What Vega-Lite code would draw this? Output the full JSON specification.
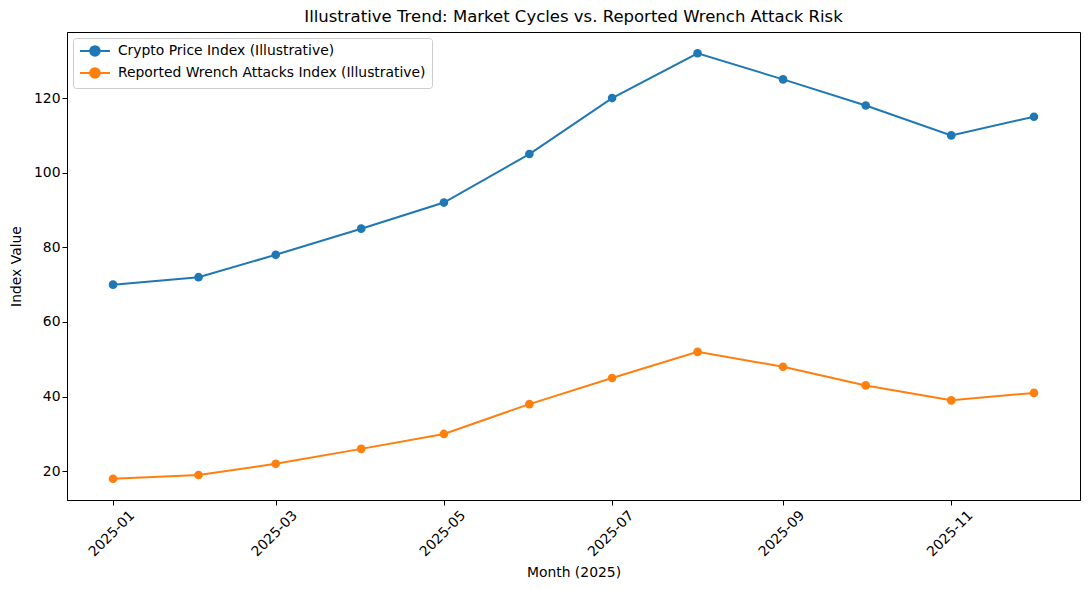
{
  "$schema": "https://vega.github.io/schema/vega-lite/v6.json",
  "autosize": "none",
  "padding": {"left": 67, "top": 32, "right": 10, "bottom": 90},
  "width": 1013,
  "height": 468,
  "title": {
    "text": "Illustrative Trend: Market Cycles vs. Reported Wrench Attack Risk",
    "font": "DejaVu Sans",
    "fontSize": 16.5,
    "fontWeight": "normal",
    "color": "black",
    "anchor": "middle",
    "offset": 7
  },
  "data": {
    "values": [
      {"month": "2025-01-01", "series": "Crypto Price Index (Illustrative)", "value": 70},
      {"month": "2025-02-01", "series": "Crypto Price Index (Illustrative)", "value": 72},
      {"month": "2025-03-01", "series": "Crypto Price Index (Illustrative)", "value": 78},
      {"month": "2025-04-01", "series": "Crypto Price Index (Illustrative)", "value": 85},
      {"month": "2025-05-01", "series": "Crypto Price Index (Illustrative)", "value": 92},
      {"month": "2025-06-01", "series": "Crypto Price Index (Illustrative)", "value": 105},
      {"month": "2025-07-01", "series": "Crypto Price Index (Illustrative)", "value": 120},
      {"month": "2025-08-01", "series": "Crypto Price Index (Illustrative)", "value": 132},
      {"month": "2025-09-01", "series": "Crypto Price Index (Illustrative)", "value": 125},
      {"month": "2025-10-01", "series": "Crypto Price Index (Illustrative)", "value": 118},
      {"month": "2025-11-01", "series": "Crypto Price Index (Illustrative)", "value": 110},
      {"month": "2025-12-01", "series": "Crypto Price Index (Illustrative)", "value": 115},
      {"month": "2025-01-01", "series": "Reported Wrench Attacks Index (Illustrative)", "value": 18},
      {"month": "2025-02-01", "series": "Reported Wrench Attacks Index (Illustrative)", "value": 19},
      {"month": "2025-03-01", "series": "Reported Wrench Attacks Index (Illustrative)", "value": 22},
      {"month": "2025-04-01", "series": "Reported Wrench Attacks Index (Illustrative)", "value": 26},
      {"month": "2025-05-01", "series": "Reported Wrench Attacks Index (Illustrative)", "value": 30},
      {"month": "2025-06-01", "series": "Reported Wrench Attacks Index (Illustrative)", "value": 38},
      {"month": "2025-07-01", "series": "Reported Wrench Attacks Index (Illustrative)", "value": 45},
      {"month": "2025-08-01", "series": "Reported Wrench Attacks Index (Illustrative)", "value": 52},
      {"month": "2025-09-01", "series": "Reported Wrench Attacks Index (Illustrative)", "value": 48},
      {"month": "2025-10-01", "series": "Reported Wrench Attacks Index (Illustrative)", "value": 43},
      {"month": "2025-11-01", "series": "Reported Wrench Attacks Index (Illustrative)", "value": 39},
      {"month": "2025-12-01", "series": "Reported Wrench Attacks Index (Illustrative)", "value": 41}
    ]
  },
  "encoding": {
    "x": {
      "field": "month",
      "type": "temporal",
      "title": "Month (2025)",
      "scale": {
        "type": "utc",
        "domain": [
          {"year": 2024, "month": 12, "date": 15, "hours": 7, "minutes": 12, "utc": true},
          {"year": 2025, "month": 12, "date": 17, "hours": 16, "minutes": 48, "utc": true}
        ]
      },
      "axis": {
        "values": [
          {"year": 2025, "month": 1, "date": 1, "utc": true},
          {"year": 2025, "month": 3, "date": 1, "utc": true},
          {"year": 2025, "month": 5, "date": 1, "utc": true},
          {"year": 2025, "month": 7, "date": 1, "utc": true},
          {"year": 2025, "month": 9, "date": 1, "utc": true},
          {"year": 2025, "month": 11, "date": 1, "utc": true}
        ],
        "labelExpr": "utcFormat(datum.value, '%Y-%m')",
        "labelAngle": -45,
        "labelAlign": "right",
        "labelBaseline": "middle",
        "labelOffset": 19,
        "labelPadding": 8,
        "titlePadding": 7
      }
    },
    "y": {
      "field": "value",
      "type": "quantitative",
      "title": "Index Value",
      "scale": {"domain": [12.3, 137.7], "nice": false, "zero": false},
      "axis": {"values": [20, 40, 60, 80, 100, 120], "titlePadding": 10}
    },
    "color": {
      "field": "series",
      "type": "nominal",
      "scale": {"range": ["#1f77b4", "#ff7f0e"]},
      "legend": {
        "title": null,
        "orient": "top-left",
        "offset": 6,
        "padding": 6,
        "fillColor": "white",
        "strokeColor": "#cccccc",
        "cornerRadius": 3,
        "labelFont": "DejaVu Sans",
        "labelFontSize": 13.9,
        "labelColor": "black",
        "labelLimit": 400,
        "rowPadding": 4,
        "symbolType": "M-3,0H3M0.96,0A0.96,0.96,0,1,1,-0.96,0A0.96,0.96,0,1,1,0.96,0Z",
        "symbolSize": 100,
        "symbolOffset": 9,
        "symbolStrokeWidth": 2,
        "labelOffset": 16,
        "encode": {
          "symbols": {
            "update": {
              "fill": {"scale": "color", "field": "value"},
              "stroke": {"scale": "color", "field": "value"},
              "opacity": {"value": 1}
            }
          }
        }
      }
    }
  },
  "layer": [
    {"mark": {"type": "line", "strokeWidth": 2}},
    {"mark": {"type": "point", "filled": true, "size": 75, "opacity": 1}}
  ],
  "config": {
    "background": "white",
    "font": "DejaVu Sans",
    "view": {"stroke": "black", "strokeWidth": 1},
    "axis": {
      "grid": false,
      "domainColor": "black",
      "tickColor": "black",
      "tickSize": 5,
      "labelFont": "DejaVu Sans",
      "labelFontSize": 13.9,
      "labelColor": "black",
      "titleFont": "DejaVu Sans",
      "titleFontSize": 13.9,
      "titleFontWeight": "normal",
      "titleColor": "black"
    }
  }
}
